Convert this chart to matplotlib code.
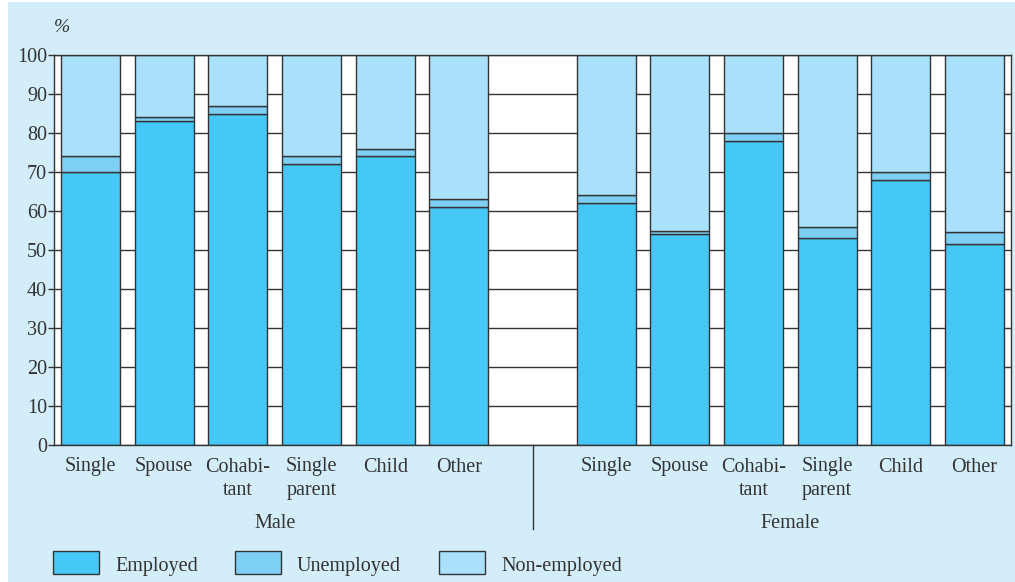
import numpy as np
import matplotlib.pyplot as plt
from matplotlib.patches import Rectangle

categories = ["Single", "Spouse", "Cohabi-\ntant", "Single\nparent", "Child", "Other"]
groups = ["Male", "Female"]

male_employed = [70, 83, 85, 72, 74, 61]
male_unemployed = [4, 1, 2, 2, 2, 2]
female_employed = [62, 54, 78, 53, 68, 51.5]
female_unemployed = [2, 1, 2, 3, 2, 3]

series_names = ["Employed", "Unemployed", "Non-employed"]
colors = ["#45c8f5", "#7dd0f4", "#aae1fa"]
bg = "#d3eefa"
ink = "#333333"
fs = 14.5

plt.rcParams['font.family'] = ['Liberation Serif', 'DejaVu Serif']

fig = plt.figure(figsize=(10.15, 5.82), dpi=100, facecolor="white")
fig.patches.append(Rectangle((8 / 1015, 0), 1 - 8 / 1015, 1 - 2 / 582,
                             transform=fig.transFigure, facecolor=bg,
                             edgecolor="none", zorder=-10))

ax = fig.add_axes([54 / 1015, 137 / 582, 957 / 1015, 390 / 582])
ax.set_facecolor("white")

emp = np.array(male_employed + female_employed, dtype=float)
une = np.array(male_unemployed + female_unemployed, dtype=float)
non = 100 - emp - une
x = np.r_[np.arange(6), np.arange(6) + 7]

ax.set_axisbelow(True)
ax.yaxis.grid(True, color=ink, lw=1)
kw = dict(width=0.8, edgecolor=ink, linewidth=1)
ax.bar(x, emp, color=colors[0], **kw)
ax.bar(x, une, bottom=emp, color=colors[1], **kw)
ax.bar(x, non, bottom=emp + une, color=colors[2], **kw)

ax.set_xlim(-0.495, 12.495)
ax.set_ylim(0, 100)
ax.set_yticks(range(0, 101, 10))
ax.set_xticks(x)
ax.set_xticklabels(categories * 2, linespacing=1.3)
ax.tick_params(axis="x", length=0, pad=9, labelsize=fs, colors=ink)
ax.tick_params(axis="y", length=4, width=1, color=ink, labelsize=fs, labelcolor=ink, pad=1)
for s in ax.spines.values():
    s.set_color(ink)
    s.set_linewidth(1)

# group labels and separator
ax.text(2.5, -0.2, groups[0], transform=ax.get_xaxis_transform(),
        ha="center", va="center", fontsize=fs, color=ink)
ax.text(9.5, -0.2, groups[1], transform=ax.get_xaxis_transform(),
        ha="center", va="center", fontsize=fs, color=ink)
ax.plot([6, 6], [0, -0.215], transform=ax.get_xaxis_transform(),
        color=ink, lw=1, clip_on=False)

fig.text(62 / 1015, 1 - 27 / 582, "%", fontsize=14, style="italic",
         color=ink, ha="center", va="center")

# legend
leg_x = [53, 235, 439]
for lx, name, c in zip(leg_x, series_names, colors):
    fig.patches.append(Rectangle((lx / 1015, 1 - 574 / 582), 46 / 1015, 23 / 582,
                                 transform=fig.transFigure, facecolor=c,
                                 edgecolor=ink, lw=1))
    fig.text((lx + 62) / 1015, 1 - 567 / 582, name, fontsize=fs, color=ink,
             ha="left", va="center")

fig.savefig("out.png", dpi=100, facecolor=fig.get_facecolor())
